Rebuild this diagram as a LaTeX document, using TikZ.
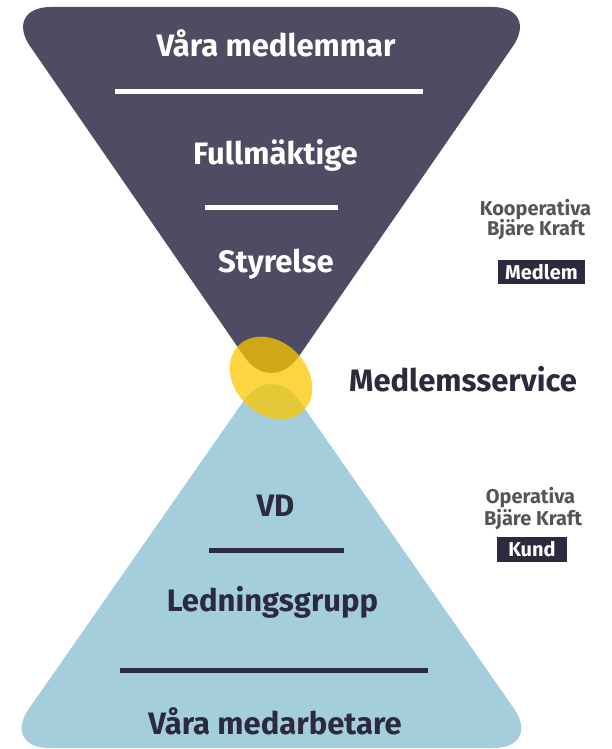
\documentclass[tikz,border=0pt]{standalone}
\usepackage{fontspec}
\setmainfont{Fira Sans}
\definecolor{upperc}{HTML}{4F4B63}
\definecolor{lowerc}{HTML}{A4CEDC}
\definecolor{yell}{HTML}{FCC700}
\definecolor{navy}{HTML}{2B2A3E}
\definecolor{grayt}{HTML}{555555}
\tikzset{
  maintext/.style={font=\fontsize{31}{31}\selectfont\bfseries, inner sep=0pt, anchor=base},
  whitetext/.style={maintext, text=white},
  darktext/.style={maintext, text=navy},
  sidetext/.style={font=\fontsize{20}{20}\selectfont\bfseries, text=grayt, inner sep=0pt, anchor=base},
  tagbox/.style={fill=navy, text=white, font=\fontsize{20}{20}\selectfont\bfseries, inner sep=0pt},
  whiteline/.style={draw=white, line width=5pt},
  darkline/.style={draw=navy, line width=5pt}
}
\begin{document}
\begin{tikzpicture}[x=1pt,y=-1pt]
\useasboundingbox (0,0) rectangle (612,749);
% upper triangle
\fill[upperc, rounded corners=48pt] (271.5,7) -- (540,7) -- (271.5,396) -- (3,7) -- cycle;
% lower triangle
\fill[lowerc, rounded corners=48pt] (271.5,748) -- (1.5,748) -- (271.5,361) -- (541.5,748) -- cycle;
% yellow ellipse
\coordinate (ec) at (271,378);
\fill[yell, opacity=0.75, rotate around={-45:(ec)}] (ec) ellipse [x radius=46pt, y radius=36pt];
% upper texts
\node[whitetext] (t1) at (276,57) {Våra medlemmar};
\draw[whiteline] (115,91.5) -- (423,91.5);
\node[whitetext] (t2) at (275.5,164) {Fullmäktige};
\draw[whiteline] (205,207.5) -- (338,207.5);
\node[whitetext] (t3) at (276,272) {Styrelse};
% lower texts
\node[darktext] (t4) at (275.5,516) {VD};
\draw[darkline] (209,550.5) -- (344,550.5);
\node[darktext] (t5) at (272.5,611) {Ledningsgrupp};
\draw[darkline] (120,670) -- (428,670);
\node[darktext] (t6) at (275,734) {Våra medarbetare};
% middle
\node[darktext] (ms) at (463,391) {Medlemsservice};
% right labels
\node[sidetext] (k1) at (535.5,215) {Kooperativa};
\node[sidetext] (k2) at (536,235) {Bjäre Kraft};
\node[tagbox, minimum width=87pt, minimum height=24pt] (medlem) at (541.5,272) {Medlem};
\node[sidetext] (o1) at (530.5,503) {Operativa};
\node[sidetext] (o2) at (533,525) {Bjäre Kraft};
\node[tagbox, minimum width=70pt, minimum height=25pt] (kund) at (532,549.5) {Kund};
\end{tikzpicture}
\end{document}
